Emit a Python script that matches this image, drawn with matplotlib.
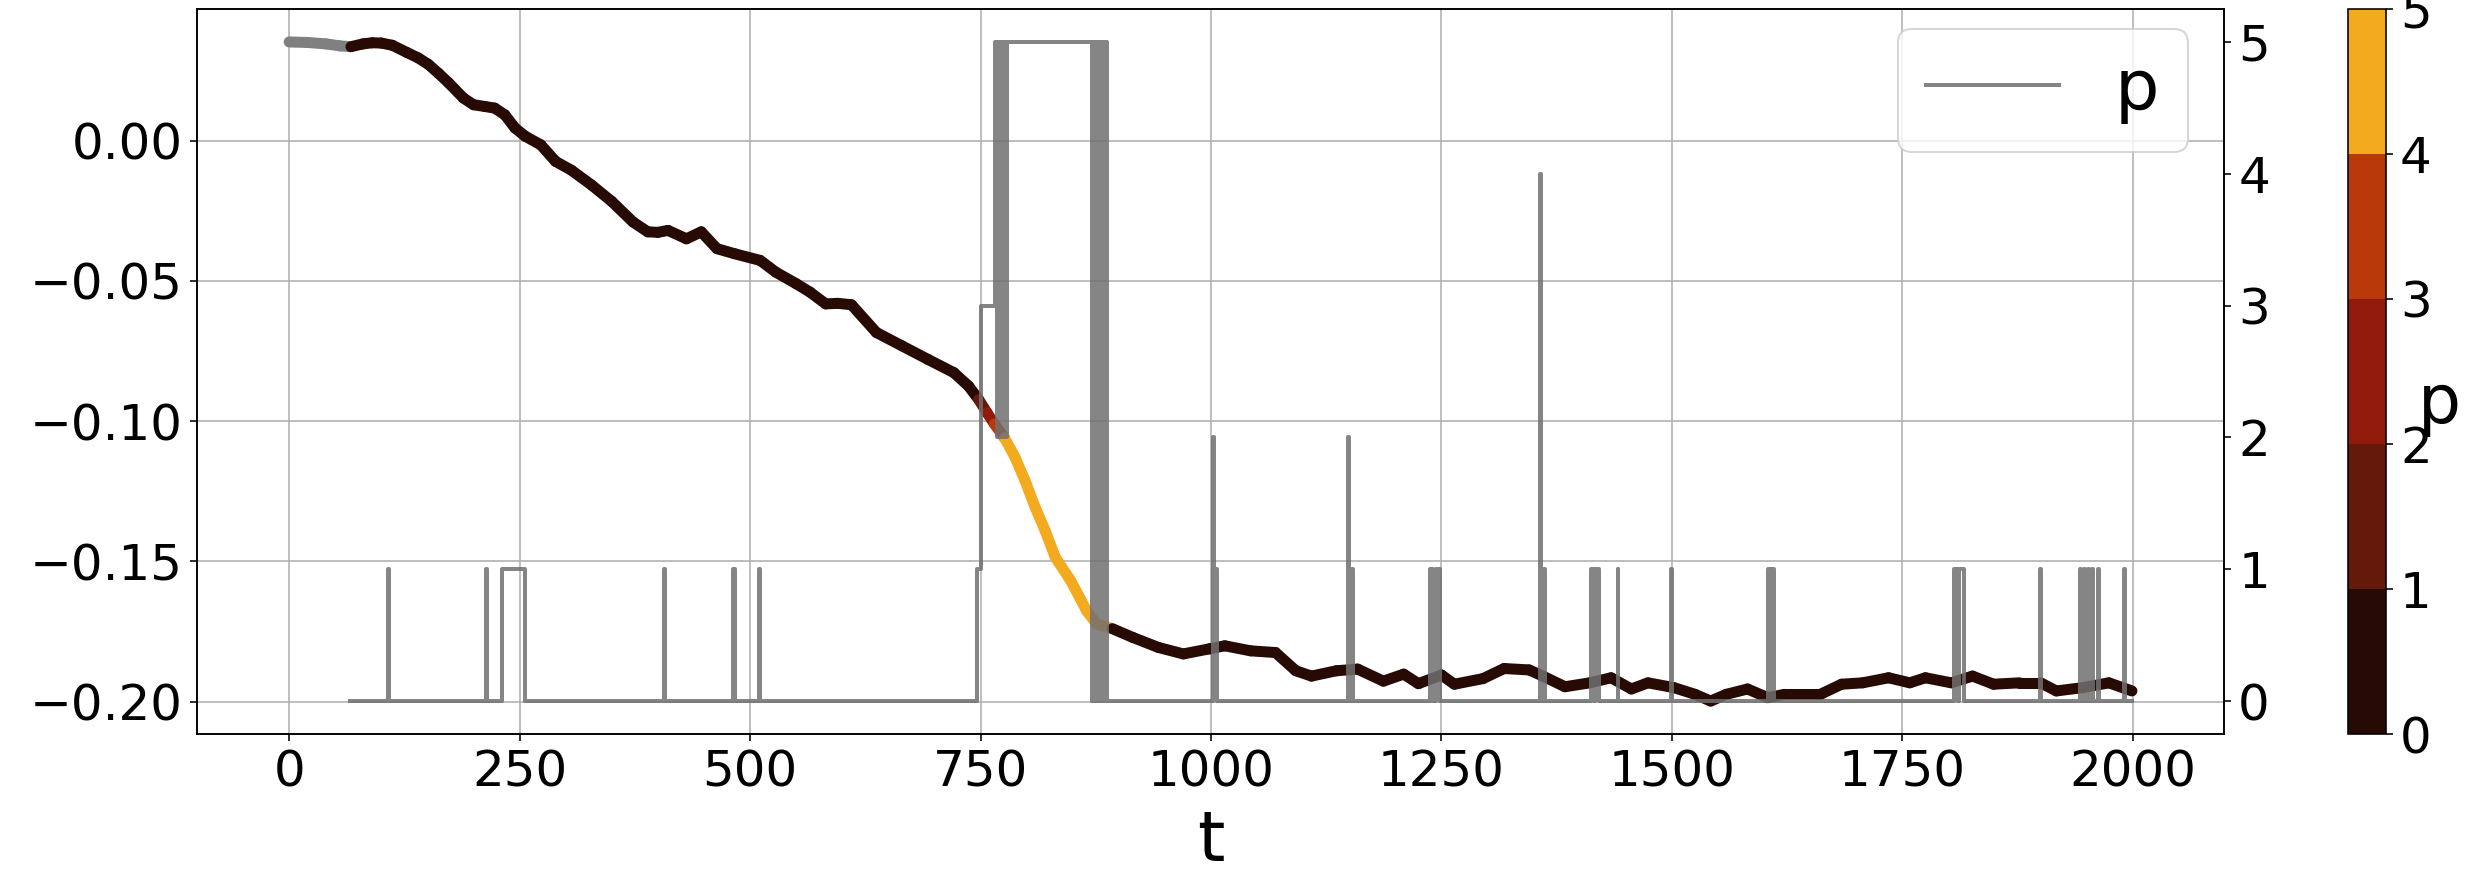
import numpy as np
import matplotlib
matplotlib.use("Agg")
import matplotlib.pyplot as plt
from matplotlib.colors import ListedColormap, Normalize
from matplotlib.collections import LineCollection
from matplotlib.cm import ScalarMappable

# Trajectory of the tracked quantity over time
curve_t = [0, 20, 40, 55, 67, 80, 90, 100, 112, 128, 140, 151, 162, 173, 189, 200,
           212, 223, 234, 245, 256, 273, 289, 306, 328, 350, 373, 389, 400, 411,
           431, 447, 464, 483, 511, 528, 550, 565, 582, 595, 610, 637, 665, 693,
           721, 737, 748, 757, 765, 776, 787, 798, 809, 820, 831, 848, 865, 876,
           893, 915, 943, 970, 998, 1015, 1043, 1070, 1092, 1109, 1136, 1159,
           1187, 1209, 1225, 1250, 1264, 1295, 1318, 1345, 1360, 1384, 1411, 1434,
           1456, 1474, 1502, 1525, 1542, 1559, 1582, 1604, 1622, 1661, 1684, 1707,
           1735, 1758, 1775, 1803, 1826, 1849, 1877, 1900, 1917, 1946, 1974, 1999]
curve_y = [0.0352, 0.0350, 0.0345, 0.0338, 0.0335, 0.0345, 0.0349, 0.0348, 0.0340,
           0.0314, 0.0295, 0.0272, 0.0240, 0.0206, 0.0152, 0.0128, 0.0122, 0.0116,
           0.0092, 0.0045, 0.0016, -0.0015, -0.0074, -0.0105, -0.0158, -0.0217,
           -0.0290, -0.0325, -0.0327, -0.0320, -0.0350, -0.0325, -0.0385, -0.0403,
           -0.0427, -0.0469, -0.0510, -0.0540, -0.0582, -0.0580, -0.0585, -0.0684,
           -0.0732, -0.0780, -0.0827, -0.0875, -0.0923, -0.0970, -0.1010, -0.1060,
           -0.1126, -0.1210, -0.1305, -0.1390, -0.1485, -0.1570, -0.1676, -0.1723,
           -0.1740, -0.1771, -0.1807, -0.1830, -0.1812, -0.1801, -0.1819, -0.1825,
           -0.1890, -0.1909, -0.1890, -0.1884, -0.1927, -0.1902, -0.1936, -0.1905,
           -0.1938, -0.1918, -0.1882, -0.1887, -0.1909, -0.1947, -0.1933, -0.1915,
           -0.1955, -0.1933, -0.1950, -0.1974, -0.1998, -0.1974, -0.1955, -0.1986,
           -0.1974, -0.1974, -0.1938, -0.1933, -0.1915, -0.1933, -0.1915, -0.1933,
           -0.1909, -0.1938, -0.1933, -0.1933, -0.1962, -0.1950, -0.1933, -0.1962]
# p attached to each trajectory sample (nan = not yet defined)
nan = float("nan")
curve_p = [nan, nan, nan, nan] + [0] * 42 + [1, 2, 3, 5, 5, 5, 5, 5, 5, 5, 5, 5] + [0] * 48

# Regime indicator p: times at which it changes and the value it takes from then on
p_change_t = [66, 107, 108, 213, 215, 231, 256, 407, 408, 481, 484, 510, 511,
              746, 751, 766, 768, 770, 772, 774, 777, 779,
              871, 873, 875, 877, 879, 881, 883, 885, 887,
              1002, 1003, 1006, 1149, 1150, 1153, 1154, 1238, 1241, 1244, 1248,
              1357, 1358, 1361, 1362, 1412, 1415, 1417, 1421, 1441, 1442,
              1499, 1500, 1604, 1606, 1608, 1611, 1806, 1810, 1811, 1817,
              1899, 1900, 1943, 1944, 1947, 1948, 1951, 1952, 1956, 1957,
              1962, 1963, 1990, 1991, 1999]
p_change_v = [0, 1, 0, 1, 0, 1, 0, 1, 0, 1, 0, 1, 0,
              1, 3, 5, 2, 5, 2, 5, 2, 5,
              0, 5, 0, 5, 0, 5, 0, 5, 0,
              2, 1, 0, 2, 0, 1, 0, 1, 0, 1, 0,
              4, 0, 1, 0, 1, 0, 1, 0, 1, 0,
              1, 0, 1, 0, 1, 0, 1, 0, 1, 0,
              1, 0, 1, 0, 1, 0, 1, 0, 1, 0,
              1, 0, 1, 0, 0]

p_colors = ["#260a03", "#64190b", "#921a0b", "#b9390a", "#f4aa1e"]
p_ticks = [0, 1, 2, 3, 4, 5]
x_ticks = [0, 250, 500, 750, 1000, 1250, 1500, 1750, 2000]
y_ticks = [-0.20, -0.15, -0.10, -0.05, 0.00]

plt.rcParams["font.family"] = "DejaVu Sans"
fig = plt.figure(figsize=(2469 / 144, 880 / 144), dpi=144)
ax = fig.add_axes([0.0798, 0.1659, 0.8210, 0.8239])
cax = fig.add_axes([0.9510, 0.1659, 0.0154, 0.8239])

cmap = ListedColormap(p_colors)
cmap.set_bad("gray")
norm = Normalize(vmin=0, vmax=5)

ct = np.asarray(curve_t, dtype=float)
cy = np.asarray(curve_y, dtype=float)
cp = np.asarray(curve_p, dtype=float)
pt = np.asarray(p_change_t, dtype=float)
pv = np.asarray(p_change_v, dtype=float)

pts = np.column_stack([ct, cy]).reshape(-1, 1, 2)
segs = np.concatenate([pts[:-1], pts[1:]], axis=1)
lc = LineCollection(segs, cmap=cmap, norm=norm, linewidths=5.5,
                    capstyle="round", joinstyle="round")
lc.set_array(np.ma.masked_invalid(cp[:-1]))
ax.add_collection(lc)
ax.update_datalim(np.column_stack([ct, cy]))
ax.autoscale_view()

ax.set_xticks(x_ticks)
ax.set_yticks(y_ticks)
ax.tick_params(labelsize=25)
ax.set_xlabel("t", fontsize=35, labelpad=6)
ax.grid(True)

ax2 = ax.twinx()
ax2.step(pt, pv, where="post", color="#707070", alpha=0.85, lw=2.0, label="p")
ax2.set_yticks(p_ticks)
ax2.tick_params(labelsize=25)
ax2.legend(loc="upper right", fontsize=35, handlelength=1.9,
           bbox_to_anchor=(0.982, 0.9725), borderaxespad=0)

cb = fig.colorbar(ScalarMappable(norm=norm, cmap=cmap), cax=cax, ticks=p_ticks)
cb.ax.tick_params(labelsize=25)
cb.set_label("p", rotation=0, fontsize=34)

fig.savefig("out.png", dpi=144)
